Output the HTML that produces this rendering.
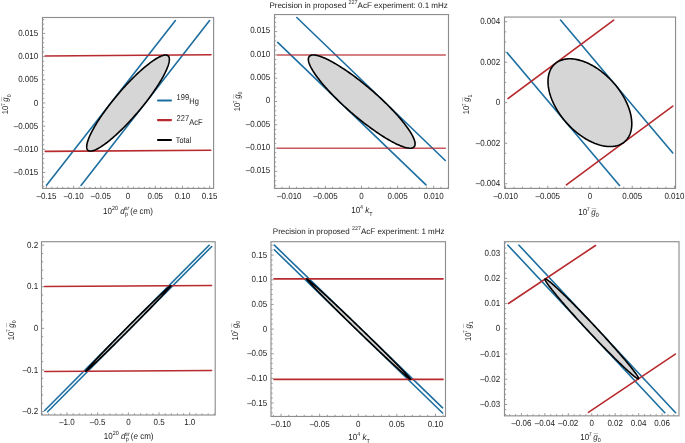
<!DOCTYPE html>
<html><head><meta charset="utf-8"><style>
html,body{margin:0;padding:0;background:#fff;}
svg{display:block;will-change:transform;}
text{font-family:"Liberation Sans", sans-serif;fill:#1a1a1a;text-rendering:geometricPrecision;}
</style></head><body>
<svg width="685" height="443" viewBox="0 0 685 443">
<rect width="685" height="443" fill="#fff"/>
<line x1="46.5" y1="185.2" x2="175.4" y2="20.6" stroke="#1d6fa1" stroke-width="1.6" stroke-linecap="round"/>
<line x1="81" y1="185.4" x2="209.6" y2="20.6" stroke="#1d6fa1" stroke-width="1.6" stroke-linecap="round"/>
<line x1="45.1" y1="55.95" x2="211" y2="54.7" stroke="#b72a2e" stroke-width="1.6" stroke-linecap="round" stroke-opacity="1"/>
<line x1="45.3" y1="151.4" x2="210.8" y2="150.2" stroke="#b72a2e" stroke-width="1.6" stroke-linecap="round" stroke-opacity="1"/>
<path d="M110.73,103.19 L111.72,101.93 L112.71,100.67 L113.72,99.42 L114.74,98.17 L115.77,96.92 L116.81,95.67 L117.86,94.43 L118.91,93.20 L119.97,91.97 L121.03,90.75 L122.10,89.54 L123.17,88.34 L124.25,87.15 L125.33,85.97 L126.41,84.80 L127.49,83.64 L128.57,82.50 L129.65,81.37 L130.73,80.26 L131.81,79.16 L132.89,78.08 L133.96,77.01 L135.03,75.97 L136.10,74.94 L137.15,73.93 L138.21,72.94 L139.25,71.97 L140.29,71.02 L141.32,70.10 L142.34,69.20 L143.35,68.32 L144.35,67.46 L145.34,66.63 L146.31,65.82 L147.28,65.04 L148.23,64.29 L149.17,63.56 L150.09,62.86 L151.00,62.18 L151.89,61.54 L152.77,60.92 L153.62,60.33 L154.47,59.77 L155.29,59.25 L156.09,58.75 L156.88,58.28 L157.64,57.84 L158.39,57.43 L159.11,57.06 L159.82,56.71 L160.50,56.40 L161.16,56.12 L161.79,55.87 L162.40,55.65 L162.99,55.47 L163.56,55.32 L164.10,55.20 L164.62,55.11 L165.11,55.06 L165.58,55.04 L166.02,55.06 L166.43,55.10 L166.82,55.18 L167.18,55.29 L167.51,55.44 L167.82,55.61 L168.10,55.82 L168.36,56.06 L168.58,56.34 L168.78,56.65 L168.95,56.98 L169.09,57.35 L169.20,57.75 L169.29,58.19 L169.34,58.65 L169.37,59.14 L169.37,59.66 L169.34,60.22 L169.29,60.80 L169.20,61.41 L169.09,62.05 L168.95,62.72 L168.78,63.41 L168.58,64.14 L168.36,64.89 L168.11,65.66 L167.83,66.46 L167.52,67.29 L167.19,68.14 L166.82,69.02 L166.44,69.91 L166.02,70.83 L165.58,71.78 L165.12,72.74 L164.63,73.73 L164.11,74.73 L163.57,75.76 L163.00,76.80 L162.42,77.86 L161.80,78.94 L161.17,80.03 L160.51,81.14 L159.83,82.27 L159.12,83.41 L158.40,84.56 L157.66,85.73 L156.89,86.91 L156.11,88.10 L155.30,89.30 L154.48,90.51 L153.64,91.72 L152.78,92.95 L151.91,94.18 L151.01,95.42 L150.11,96.66 L149.18,97.91 L148.25,99.16 L147.30,100.42 L146.33,101.67 L145.36,102.93 L144.37,104.19 L143.37,105.44 L142.36,106.70 L141.34,107.95 L140.31,109.20 L139.27,110.44 L138.23,111.68 L137.17,112.91 L136.11,114.14 L135.05,115.36 L133.98,116.57 L132.91,117.77 L131.83,118.96 L130.75,120.14 L129.67,121.31 L128.59,122.47 L127.51,123.61 L126.43,124.74 L125.35,125.86 L124.27,126.95 L123.19,128.04 L122.12,129.10 L121.05,130.15 L119.99,131.18 L118.93,132.19 L117.88,133.17 L116.83,134.14 L115.79,135.09 L114.76,136.02 L113.74,136.92 L112.73,137.80 L111.73,138.65 L110.74,139.48 L109.77,140.29 L108.80,141.07 L107.85,141.83 L106.91,142.56 L105.99,143.26 L105.08,143.93 L104.19,144.58 L103.32,145.19 L102.46,145.78 L101.62,146.34 L100.79,146.87 L99.99,147.37 L99.20,147.84 L98.44,148.28 L97.69,148.68 L96.97,149.06 L96.27,149.40 L95.59,149.72 L94.93,150.00 L94.29,150.24 L93.68,150.46 L93.09,150.64 L92.52,150.80 L91.98,150.91 L91.46,151.00 L90.97,151.05 L90.51,151.07 L90.07,151.06 L89.65,151.01 L89.26,150.93 L88.90,150.82 L88.57,150.68 L88.26,150.50 L87.98,150.29 L87.73,150.05 L87.50,149.78 L87.30,149.47 L87.13,149.13 L86.99,148.76 L86.88,148.36 L86.79,147.93 L86.74,147.47 L86.71,146.97 L86.71,146.45 L86.74,145.90 L86.79,145.31 L86.88,144.70 L86.99,144.06 L87.13,143.40 L87.30,142.70 L87.50,141.98 L87.72,141.23 L87.97,140.45 L88.25,139.65 L88.56,138.82 L88.90,137.97 L89.26,137.10 L89.64,136.20 L90.06,135.28 L90.50,134.34 L90.96,133.37 L91.46,132.39 L91.97,131.38 L92.51,130.36 L93.08,129.32 L93.67,128.25 L94.28,127.18 L94.91,126.08 L95.57,124.97 L96.25,123.84 L96.96,122.70 L97.68,121.55 L98.43,120.38 L99.19,119.21 L99.98,118.02 L100.78,116.82 L101.60,115.61 L102.44,114.39 L103.30,113.17 L104.18,111.93 L105.07,110.69 L105.98,109.45 L106.90,108.20 L107.84,106.95 L108.79,105.70 L109.75,104.44 Z" fill="#d6d6d6" stroke="#000" stroke-width="1.6" stroke-linejoin="round"/>
<rect x="42.5" y="17.5" width="171.10" height="170.92" fill="none" stroke="#8e8e8e" stroke-width="1.15"/>
<path d="M46.45,188.42v-2.7M51.89,188.42v-1.7M57.33,188.42v-1.7M62.77,188.42v-1.7M68.21,188.42v-1.7M73.65,188.42v-2.7M79.09,188.42v-1.7M84.53,188.42v-1.7M89.97,188.42v-1.7M95.41,188.42v-1.7M100.85,188.42v-2.7M106.29,188.42v-1.7M111.73,188.42v-1.7M117.17,188.42v-1.7M122.61,188.42v-1.7M128.05,188.42v-2.7M133.49,188.42v-1.7M138.93,188.42v-1.7M144.37,188.42v-1.7M149.81,188.42v-1.7M155.25,188.42v-2.7M160.69,188.42v-1.7M166.13,188.42v-1.7M171.57,188.42v-1.7M177.01,188.42v-1.7M182.45,188.42v-2.7M187.89,188.42v-1.7M193.33,188.42v-1.7M198.77,188.42v-1.7M204.21,188.42v-1.7M209.65,188.42v-2.7M42.50,186.39h1.7M42.50,181.75h1.7M42.50,177.12h1.7M42.50,172.48h2.7M42.50,167.85h1.7M42.50,163.22h1.7M42.50,158.58h1.7M42.50,153.94h1.7M42.50,149.31h2.7M42.50,144.68h1.7M42.50,140.04h1.7M42.50,135.41h1.7M42.50,130.77h1.7M42.50,126.13h2.7M42.50,121.50h1.7M42.50,116.86h1.7M42.50,112.23h1.7M42.50,107.59h1.7M42.50,102.96h2.7M42.50,98.32h1.7M42.50,93.69h1.7M42.50,89.05h1.7M42.50,84.42h1.7M42.50,79.78h2.7M42.50,75.15h1.7M42.50,70.51h1.7M42.50,65.88h1.7M42.50,61.24h1.7M42.50,56.61h2.7M42.50,51.97h1.7M42.50,47.34h1.7M42.50,42.70h1.7M42.50,38.07h1.7M42.50,33.44h2.7M42.50,28.80h1.7M42.50,24.16h1.7M42.50,19.53h1.7" stroke="#8e8e8e" stroke-width="0.9" fill="none"/>
<text transform="translate(46.45,198.82) scale(1,1.1)" font-size="8.0" text-anchor="middle" >–0.15</text>
<text transform="translate(73.65,198.82) scale(1,1.1)" font-size="8.0" text-anchor="middle" >–0.10</text>
<text transform="translate(100.85,198.82) scale(1,1.1)" font-size="8.0" text-anchor="middle" >–0.05</text>
<text transform="translate(128.05,198.82) scale(1,1.1)" font-size="8.0" text-anchor="middle" >0</text>
<text transform="translate(155.25,198.82) scale(1,1.1)" font-size="8.0" text-anchor="middle" >0.05</text>
<text transform="translate(182.45,198.82) scale(1,1.1)" font-size="8.0" text-anchor="middle" >0.10</text>
<text transform="translate(209.65,198.82) scale(1,1.1)" font-size="8.0" text-anchor="middle" >0.15</text>
<text transform="translate(38.20,175.18) scale(1,1.1)" font-size="8.0" text-anchor="end" >–0.015</text>
<text transform="translate(38.20,152.01) scale(1,1.1)" font-size="8.0" text-anchor="end" >–0.010</text>
<text transform="translate(38.20,128.83) scale(1,1.1)" font-size="8.0" text-anchor="end" >–0.005</text>
<text transform="translate(38.20,105.66) scale(1,1.1)" font-size="8.0" text-anchor="end" >0</text>
<text transform="translate(38.20,82.48) scale(1,1.1)" font-size="8.0" text-anchor="end" >0.005</text>
<text transform="translate(38.20,59.31) scale(1,1.1)" font-size="8.0" text-anchor="end" >0.010</text>
<text transform="translate(38.20,36.14) scale(1,1.1)" font-size="8.0" text-anchor="end" >0.015</text>
<line x1="296.8" y1="17.5" x2="445.3" y2="160.5" stroke="#1d6fa1" stroke-width="1.6" stroke-linecap="round"/>
<line x1="277.7" y1="42.4" x2="426" y2="184.9" stroke="#1d6fa1" stroke-width="1.6" stroke-linecap="round"/>
<line x1="277.3" y1="55.0" x2="445.3" y2="55.0" stroke="#b72a2e" stroke-width="1.6" stroke-linecap="round" stroke-opacity="0.78"/>
<line x1="277.3" y1="148.2" x2="445.3" y2="148.2" stroke="#b72a2e" stroke-width="1.6" stroke-linecap="round" stroke-opacity="0.78"/>
<path d="M384.13,101.60 L382.86,100.38 L381.57,99.16 L380.26,97.94 L378.95,96.73 L377.62,95.52 L376.28,94.31 L374.93,93.11 L373.57,91.91 L372.21,90.72 L370.83,89.54 L369.45,88.36 L368.07,87.20 L366.68,86.04 L365.29,84.90 L363.89,83.77 L362.49,82.65 L361.10,81.54 L359.70,80.44 L358.30,79.36 L356.91,78.30 L355.52,77.25 L354.13,76.22 L352.75,75.21 L351.38,74.21 L350.01,73.23 L348.65,72.27 L347.30,71.34 L345.96,70.42 L344.63,69.52 L343.31,68.65 L342.01,67.80 L340.72,66.97 L339.44,66.17 L338.18,65.38 L336.93,64.63 L335.70,63.90 L334.49,63.20 L333.30,62.52 L332.13,61.87 L330.97,61.24 L329.84,60.65 L328.73,60.08 L327.65,59.54 L326.58,59.03 L325.54,58.55 L324.53,58.10 L323.54,57.67 L322.57,57.28 L321.64,56.92 L320.73,56.59 L319.85,56.29 L319.00,56.02 L318.17,55.78 L317.38,55.57 L316.62,55.40 L315.89,55.26 L315.19,55.14 L314.52,55.06 L313.88,55.02 L313.28,55.00 L312.71,55.02 L312.17,55.06 L311.67,55.14 L311.20,55.26 L310.77,55.40 L310.37,55.57 L310.00,55.78 L309.68,56.02 L309.38,56.29 L309.13,56.59 L308.91,56.92 L308.72,57.28 L308.57,57.67 L308.46,58.10 L308.39,58.55 L308.35,59.03 L308.35,59.54 L308.38,60.08 L308.45,60.65 L308.56,61.24 L308.71,61.87 L308.89,62.52 L309.10,63.20 L309.36,63.90 L309.64,64.63 L309.97,65.38 L310.33,66.17 L310.72,66.97 L311.15,67.80 L311.62,68.65 L312.12,69.52 L312.65,70.42 L313.22,71.34 L313.82,72.27 L314.45,73.23 L315.11,74.21 L315.81,75.21 L316.54,76.22 L317.30,77.25 L318.09,78.30 L318.91,79.36 L319.76,80.44 L320.64,81.54 L321.54,82.65 L322.48,83.77 L323.44,84.90 L324.42,86.04 L325.44,87.20 L326.47,88.36 L327.53,89.54 L328.62,90.72 L329.73,91.91 L330.86,93.11 L332.01,94.31 L333.18,95.52 L334.37,96.73 L335.58,97.94 L336.80,99.16 L338.05,100.38 L339.31,101.60 L340.59,102.82 L341.88,104.04 L343.18,105.26 L344.50,106.47 L345.82,107.68 L347.16,108.89 L348.51,110.09 L349.87,111.29 L351.24,112.48 L352.61,113.66 L353.99,114.84 L355.38,116.00 L356.77,117.16 L358.16,118.30 L359.55,119.43 L360.95,120.55 L362.35,121.66 L363.75,122.76 L365.14,123.84 L366.53,124.90 L367.92,125.95 L369.31,126.98 L370.69,127.99 L372.06,128.99 L373.43,129.97 L374.79,130.93 L376.14,131.86 L377.48,132.78 L378.81,133.68 L380.13,134.55 L381.43,135.40 L382.73,136.23 L384.00,137.03 L385.27,137.82 L386.51,138.57 L387.74,139.30 L388.95,140.00 L390.14,140.68 L391.32,141.33 L392.47,141.96 L393.60,142.55 L394.71,143.12 L395.80,143.66 L396.86,144.17 L397.90,144.65 L398.92,145.10 L399.91,145.53 L400.87,145.92 L401.81,146.28 L402.72,146.61 L403.60,146.91 L404.45,147.18 L405.27,147.42 L406.06,147.63 L406.83,147.80 L407.56,147.94 L408.26,148.06 L408.93,148.14 L409.56,148.18 L410.17,148.20 L410.74,148.18 L411.27,148.14 L411.78,148.06 L412.24,147.94 L412.68,147.80 L413.08,147.63 L413.44,147.42 L413.77,147.18 L414.06,146.91 L414.32,146.61 L414.54,146.28 L414.72,145.92 L414.87,145.53 L414.98,145.10 L415.06,144.65 L415.09,144.17 L415.10,143.66 L415.06,143.12 L414.99,142.55 L414.88,141.96 L414.74,141.33 L414.56,140.68 L414.34,140.00 L414.09,139.30 L413.80,138.57 L413.48,137.82 L413.12,137.03 L412.72,136.23 L412.29,135.40 L411.83,134.55 L411.33,133.68 L410.79,132.78 L410.23,131.86 L409.63,130.93 L408.99,129.97 L408.33,128.99 L407.63,127.99 L406.90,126.98 L406.14,125.95 L405.35,124.90 L404.53,123.84 L403.69,122.76 L402.81,121.66 L401.90,120.55 L400.97,119.43 L400.01,118.30 L399.02,117.16 L398.01,116.00 L396.97,114.84 L395.91,113.66 L394.82,112.48 L393.72,111.29 L392.59,110.09 L391.44,108.89 L390.27,107.68 L389.08,106.47 L387.87,105.26 L386.64,104.04 L385.40,102.82 Z" fill="#d6d6d6" stroke="#000" stroke-width="1.6" stroke-linejoin="round"/>
<rect x="274.5" y="14.55" width="174.00" height="173.87" fill="none" stroke="#8e8e8e" stroke-width="1.15"/>
<path d="M274.86,188.42v-1.7M282.08,188.42v-1.7M289.30,188.42v-2.7M296.52,188.42v-1.7M303.74,188.42v-1.7M310.96,188.42v-1.7M318.18,188.42v-1.7M325.40,188.42v-2.7M332.62,188.42v-1.7M339.84,188.42v-1.7M347.06,188.42v-1.7M354.28,188.42v-1.7M361.50,188.42v-2.7M368.72,188.42v-1.7M375.94,188.42v-1.7M383.16,188.42v-1.7M390.38,188.42v-1.7M397.60,188.42v-2.7M404.82,188.42v-1.7M412.04,188.42v-1.7M419.26,188.42v-1.7M426.48,188.42v-1.7M433.70,188.42v-2.7M440.92,188.42v-1.7M448.14,188.42v-1.7M274.50,185.37h1.7M274.50,180.70h1.7M274.50,176.05h1.7M274.50,171.38h2.7M274.50,166.72h1.7M274.50,162.06h1.7M274.50,157.41h1.7M274.50,152.75h1.7M274.50,148.09h2.7M274.50,143.43h1.7M274.50,138.76h1.7M274.50,134.10h1.7M274.50,129.44h1.7M274.50,124.78h2.7M274.50,120.12h1.7M274.50,115.47h1.7M274.50,110.81h1.7M274.50,106.14h1.7M274.50,101.48h2.7M274.50,96.83h1.7M274.50,92.16h1.7M274.50,87.50h1.7M274.50,82.84h1.7M274.50,78.19h2.7M274.50,73.53h1.7M274.50,68.87h1.7M274.50,64.20h1.7M274.50,59.54h1.7M274.50,54.88h2.7M274.50,50.23h1.7M274.50,45.56h1.7M274.50,40.90h1.7M274.50,36.25h1.7M274.50,31.59h2.7M274.50,26.92h1.7M274.50,22.27h1.7M274.50,17.60h1.7" stroke="#8e8e8e" stroke-width="0.9" fill="none"/>
<text transform="translate(289.30,198.82) scale(1,1.1)" font-size="8.0" text-anchor="middle" >–0.010</text>
<text transform="translate(325.40,198.82) scale(1,1.1)" font-size="8.0" text-anchor="middle" >–0.005</text>
<text transform="translate(361.50,198.82) scale(1,1.1)" font-size="8.0" text-anchor="middle" >0</text>
<text transform="translate(397.60,198.82) scale(1,1.1)" font-size="8.0" text-anchor="middle" >0.005</text>
<text transform="translate(433.70,198.82) scale(1,1.1)" font-size="8.0" text-anchor="middle" >0.010</text>
<text transform="translate(270.20,173.28) scale(1,1.1)" font-size="8.0" text-anchor="end" >–0.015</text>
<text transform="translate(270.20,149.98) scale(1,1.1)" font-size="8.0" text-anchor="end" >–0.010</text>
<text transform="translate(270.20,126.69) scale(1,1.1)" font-size="8.0" text-anchor="end" >–0.005</text>
<text transform="translate(270.20,103.39) scale(1,1.1)" font-size="8.0" text-anchor="end" >0</text>
<text transform="translate(270.20,80.09) scale(1,1.1)" font-size="8.0" text-anchor="end" >0.005</text>
<text transform="translate(270.20,56.78) scale(1,1.1)" font-size="8.0" text-anchor="end" >0.010</text>
<text transform="translate(270.20,33.49) scale(1,1.1)" font-size="8.0" text-anchor="end" >0.015</text>
<line x1="560.5" y1="20.05" x2="672.8" y2="152.9" stroke="#1d6fa1" stroke-width="1.6" stroke-linecap="round"/>
<line x1="507" y1="52.6" x2="619.5" y2="185.4" stroke="#1d6fa1" stroke-width="1.6" stroke-linecap="round"/>
<line x1="508.0" y1="98.56" x2="613.7" y2="20.2" stroke="#b72a2e" stroke-width="1.6" stroke-linecap="round" stroke-opacity="1"/>
<line x1="566.4" y1="184.85" x2="672.8" y2="106.1" stroke="#b72a2e" stroke-width="1.6" stroke-linecap="round" stroke-opacity="1"/>
<path d="M614.77,84.25 L613.88,83.21 L612.97,82.19 L612.05,81.18 L611.11,80.19 L610.16,79.21 L609.19,78.24 L608.21,77.30 L607.22,76.37 L606.21,75.46 L605.20,74.57 L604.17,73.69 L603.13,72.84 L602.09,72.01 L601.04,71.20 L599.98,70.41 L598.91,69.64 L597.83,68.89 L596.75,68.17 L595.67,67.47 L594.58,66.80 L593.49,66.15 L592.40,65.53 L591.30,64.93 L590.20,64.35 L589.11,63.81 L588.01,63.29 L586.92,62.79 L585.82,62.33 L584.73,61.89 L583.65,61.48 L582.57,61.10 L581.49,60.74 L580.42,60.42 L579.35,60.12 L578.29,59.85 L577.24,59.62 L576.20,59.41 L575.17,59.23 L574.15,59.08 L573.14,58.96 L572.14,58.87 L571.15,58.81 L570.18,58.79 L569.22,58.79 L568.27,58.82 L567.34,58.88 L566.42,58.97 L565.52,59.09 L564.64,59.24 L563.77,59.43 L562.92,59.64 L562.09,59.88 L561.28,60.15 L560.49,60.45 L559.72,60.77 L558.97,61.13 L558.24,61.51 L557.53,61.93 L556.85,62.37 L556.19,62.84 L555.55,63.33 L554.93,63.86 L554.34,64.41 L553.77,64.98 L553.23,65.58 L552.71,66.21 L552.22,66.86 L551.75,67.54 L551.31,68.24 L550.90,68.96 L550.51,69.71 L550.15,70.48 L549.82,71.27 L549.51,72.09 L549.24,72.92 L548.99,73.77 L548.76,74.65 L548.57,75.54 L548.40,76.46 L548.27,77.39 L548.16,78.33 L548.08,79.30 L548.03,80.28 L548.01,81.27 L548.01,82.28 L548.05,83.31 L548.11,84.35 L548.20,85.40 L548.32,86.46 L548.47,87.53 L548.65,88.62 L548.86,89.71 L549.09,90.81 L549.35,91.92 L549.64,93.04 L549.96,94.16 L550.31,95.29 L550.68,96.43 L551.08,97.57 L551.50,98.71 L551.95,99.86 L552.43,101.00 L552.94,102.15 L553.46,103.30 L554.02,104.45 L554.60,105.60 L555.20,106.74 L555.83,107.88 L556.48,109.02 L557.15,110.16 L557.84,111.29 L558.56,112.41 L559.30,113.53 L560.06,114.64 L560.84,115.74 L561.64,116.83 L562.46,117.91 L563.30,118.99 L564.15,120.05 L565.03,121.10 L565.92,122.13 L566.82,123.16 L567.75,124.16 L568.69,125.16 L569.64,126.14 L570.61,127.10 L571.59,128.05 L572.58,128.98 L573.58,129.89 L574.60,130.78 L575.62,131.65 L576.66,132.50 L577.71,133.34 L578.76,134.15 L579.82,134.94 L580.89,135.71 L581.96,136.45 L583.04,137.17 L584.12,137.87 L585.21,138.55 L586.30,139.20 L587.40,139.82 L588.49,140.42 L589.59,140.99 L590.69,141.54 L591.78,142.06 L592.88,142.55 L593.97,143.02 L595.06,143.46 L596.15,143.87 L597.23,144.25 L598.31,144.60 L599.38,144.93 L600.44,145.23 L601.50,145.49 L602.55,145.73 L603.59,145.94 L604.62,146.12 L605.64,146.26 L606.66,146.38 L607.65,146.47 L608.64,146.53 L609.62,146.56 L610.58,146.56 L611.52,146.53 L612.46,146.47 L613.37,146.37 L614.27,146.25 L615.16,146.10 L616.02,145.92 L616.87,145.71 L617.70,145.47 L618.51,145.20 L619.30,144.90 L620.07,144.57 L620.82,144.22 L621.55,143.83 L622.26,143.42 L622.94,142.98 L623.61,142.51 L624.25,142.01 L624.86,141.49 L625.46,140.94 L626.02,140.36 L626.57,139.76 L627.08,139.14 L627.58,138.48 L628.04,137.81 L628.48,137.11 L628.90,136.38 L629.28,135.64 L629.64,134.87 L629.98,134.07 L630.28,133.26 L630.56,132.43 L630.81,131.57 L631.03,130.70 L631.22,129.80 L631.39,128.89 L631.53,127.96 L631.64,127.01 L631.72,126.05 L631.77,125.07 L631.79,124.07 L631.78,123.06 L631.75,122.04 L631.68,121.00 L631.59,119.95 L631.47,118.89 L631.32,117.81 L631.14,116.73 L630.94,115.64 L630.70,114.54 L630.44,113.42 L630.15,112.31 L629.83,111.18 L629.49,110.05 L629.12,108.92 L628.72,107.78 L628.29,106.64 L627.84,105.49 L627.36,104.34 L626.86,103.19 L626.33,102.05 L625.78,100.90 L625.20,99.75 L624.59,98.60 L623.97,97.46 L623.32,96.32 L622.65,95.19 L621.95,94.06 L621.23,92.93 L620.50,91.82 L619.74,90.71 L618.96,89.61 L618.16,88.51 L617.34,87.43 L616.50,86.36 L615.64,85.30 Z" fill="#d6d6d6" stroke="#000" stroke-width="1.6" stroke-linejoin="round"/>
<rect x="504.5" y="17.06" width="171.05" height="171.36" fill="none" stroke="#8e8e8e" stroke-width="1.15"/>
<path d="M505.62,188.42v-2.7M514.06,188.42v-1.7M522.50,188.42v-1.7M530.94,188.42v-1.7M539.38,188.42v-1.7M547.82,188.42v-2.7M556.26,188.42v-1.7M564.70,188.42v-1.7M573.14,188.42v-1.7M581.58,188.42v-1.7M590.02,188.42v-2.7M598.47,188.42v-1.7M606.90,188.42v-1.7M615.35,188.42v-1.7M623.78,188.42v-1.7M632.23,188.42v-2.7M640.66,188.42v-1.7M649.11,188.42v-1.7M657.54,188.42v-1.7M665.99,188.42v-1.7M674.42,188.42v-2.7M504.50,183.74h2.7M504.50,173.62h1.7M504.50,163.49h1.7M504.50,153.37h1.7M504.50,143.24h2.7M504.50,133.12h1.7M504.50,122.99h1.7M504.50,112.86h1.7M504.50,102.74h2.7M504.50,92.61h1.7M504.50,82.49h1.7M504.50,72.36h1.7M504.50,62.24h2.7M504.50,52.11h1.7M504.50,41.99h1.7M504.50,31.86h1.7M504.50,21.74h2.7" stroke="#8e8e8e" stroke-width="0.9" fill="none"/>
<text transform="translate(505.62,198.82) scale(1,1.1)" font-size="8.0" text-anchor="middle" >–0.010</text>
<text transform="translate(547.82,198.82) scale(1,1.1)" font-size="8.0" text-anchor="middle" >–0.005</text>
<text transform="translate(590.02,198.82) scale(1,1.1)" font-size="8.0" text-anchor="middle" >0</text>
<text transform="translate(632.23,198.82) scale(1,1.1)" font-size="8.0" text-anchor="middle" >0.005</text>
<text transform="translate(674.42,198.82) scale(1,1.1)" font-size="8.0" text-anchor="middle" >0.010</text>
<text transform="translate(500.20,186.44) scale(1,1.1)" font-size="8.0" text-anchor="end" >–0.004</text>
<text transform="translate(500.20,145.94) scale(1,1.1)" font-size="8.0" text-anchor="end" >–0.002</text>
<text transform="translate(500.20,105.44) scale(1,1.1)" font-size="8.0" text-anchor="end" >0</text>
<text transform="translate(500.20,64.94) scale(1,1.1)" font-size="8.0" text-anchor="end" >0.002</text>
<text transform="translate(500.20,24.44) scale(1,1.1)" font-size="8.0" text-anchor="end" >0.004</text>
<line x1="44.7" y1="410.5" x2="209.1" y2="245.2" stroke="#1d6fa1" stroke-width="1.6" stroke-linecap="round"/>
<line x1="47.6" y1="411.8" x2="211.7" y2="246.5" stroke="#1d6fa1" stroke-width="1.6" stroke-linecap="round"/>
<line x1="44.6" y1="286.45" x2="211.6" y2="285.5" stroke="#b72a2e" stroke-width="1.6" stroke-linecap="round" stroke-opacity="1"/>
<line x1="44.8" y1="371.5" x2="211.6" y2="370.5" stroke="#b72a2e" stroke-width="1.6" stroke-linecap="round" stroke-opacity="1"/>
<path d="M126.25,328.51 L127.36,327.39 L128.47,326.27 L129.59,325.15 L130.70,324.04 L131.81,322.92 L132.92,321.82 L134.03,320.71 L135.13,319.61 L136.22,318.52 L137.31,317.44 L138.40,316.36 L139.48,315.29 L140.55,314.23 L141.61,313.18 L142.66,312.14 L143.71,311.11 L144.74,310.09 L145.76,309.09 L146.77,308.10 L147.77,307.12 L148.75,306.16 L149.72,305.21 L150.67,304.28 L151.61,303.37 L152.53,302.47 L153.44,301.59 L154.33,300.73 L155.20,299.89 L156.05,299.07 L156.89,298.27 L157.70,297.48 L158.50,296.72 L159.27,295.99 L160.02,295.27 L160.75,294.58 L161.46,293.91 L162.15,293.26 L162.81,292.64 L163.45,292.04 L164.06,291.47 L164.65,290.92 L165.22,290.40 L165.76,289.90 L166.27,289.43 L166.76,288.99 L167.22,288.58 L167.65,288.19 L168.06,287.83 L168.44,287.50 L168.80,287.19 L169.12,286.92 L169.42,286.67 L169.69,286.45 L169.93,286.26 L170.14,286.10 L170.33,285.97 L170.48,285.87 L170.61,285.79 L170.70,285.75 L170.77,285.73 L170.81,285.75 L170.82,285.79 L170.80,285.86 L170.75,285.97 L170.67,286.10 L170.57,286.26 L170.43,286.45 L170.26,286.66 L170.07,286.91 L169.85,287.19 L169.60,287.49 L169.32,287.82 L169.01,288.18 L168.68,288.57 L168.31,288.98 L167.92,289.42 L167.51,289.89 L167.06,290.39 L166.59,290.91 L166.09,291.46 L165.57,292.03 L165.02,292.62 L164.45,293.25 L163.85,293.89 L163.23,294.56 L162.58,295.25 L161.91,295.97 L161.22,296.71 L160.50,297.47 L159.76,298.25 L159.00,299.05 L158.22,299.87 L157.42,300.71 L156.60,301.57 L155.76,302.45 L154.90,303.35 L154.02,304.26 L153.13,305.19 L152.21,306.14 L151.29,307.10 L150.34,308.08 L149.38,309.07 L148.41,310.07 L147.42,311.09 L146.42,312.12 L145.41,313.16 L144.38,314.21 L143.34,315.27 L142.30,316.34 L141.24,317.41 L140.18,318.50 L139.10,319.59 L138.02,320.69 L136.94,321.79 L135.84,322.90 L134.74,324.01 L133.64,325.13 L132.53,326.24 L131.43,327.36 L130.31,328.48 L129.20,329.60 L128.09,330.72 L126.97,331.84 L125.86,332.95 L124.75,334.06 L123.64,335.17 L122.54,336.27 L121.44,337.37 L120.34,338.46 L119.25,339.55 L118.16,340.63 L117.08,341.70 L116.01,342.76 L114.95,343.81 L113.90,344.85 L112.86,345.87 L111.82,346.89 L110.80,347.90 L109.79,348.89 L108.80,349.86 L107.81,350.83 L106.84,351.77 L105.89,352.70 L104.95,353.62 L104.03,354.52 L103.12,355.39 L102.23,356.26 L101.36,357.10 L100.51,357.92 L99.67,358.72 L98.86,359.50 L98.07,360.26 L97.29,361.00 L96.54,361.72 L95.81,362.41 L95.10,363.08 L94.42,363.73 L93.75,364.35 L93.12,364.95 L92.50,365.52 L91.91,366.07 L91.35,366.59 L90.81,367.08 L90.29,367.55 L89.80,367.99 L89.34,368.41 L88.91,368.80 L88.50,369.16 L88.12,369.49 L87.77,369.79 L87.44,370.07 L87.14,370.32 L86.87,370.54 L86.63,370.73 L86.42,370.89 L86.24,371.02 L86.08,371.12 L85.96,371.20 L85.86,371.24 L85.79,371.25 L85.75,371.24 L85.74,371.20 L85.76,371.12 L85.81,371.02 L85.89,370.89 L86.00,370.73 L86.13,370.54 L86.30,370.32 L86.49,370.08 L86.71,369.80 L86.96,369.50 L87.24,369.17 L87.55,368.81 L87.89,368.42 L88.25,368.00 L88.64,367.56 L89.06,367.09 L89.50,366.60 L89.97,366.08 L90.47,365.53 L90.99,364.96 L91.54,364.36 L92.11,363.74 L92.71,363.09 L93.33,362.43 L93.98,361.73 L94.65,361.02 L95.35,360.28 L96.06,359.52 L96.80,358.74 L97.56,357.94 L98.34,357.11 L99.14,356.27 L99.96,355.41 L100.80,354.53 L101.66,353.64 L102.54,352.72 L103.43,351.79 L104.35,350.85 L105.28,349.88 L106.22,348.91 L107.18,347.92 L108.15,346.91 L109.14,345.90 L110.14,344.87 L111.16,343.83 L112.18,342.78 L113.22,341.72 L114.26,340.65 L115.32,339.57 L116.39,338.49 L117.46,337.40 L118.54,336.30 L119.63,335.19 L120.72,334.09 L121.82,332.97 L122.92,331.86 L124.03,330.74 L125.14,329.62 Z" fill="#d6d6d6" stroke="#000" stroke-width="1.6" stroke-linejoin="round"/>
<rect x="41.5" y="241.7" width="173.70" height="173.30" fill="none" stroke="#8e8e8e" stroke-width="1.15"/>
<path d="M42.39,415.00v-1.7M48.53,415.00v-1.7M54.67,415.00v-1.7M60.81,415.00v-1.7M66.95,415.00v-2.7M73.09,415.00v-1.7M79.23,415.00v-1.7M85.37,415.00v-1.7M91.51,415.00v-1.7M97.65,415.00v-2.7M103.79,415.00v-1.7M109.93,415.00v-1.7M116.07,415.00v-1.7M122.21,415.00v-1.7M128.35,415.00v-2.7M134.49,415.00v-1.7M140.63,415.00v-1.7M146.77,415.00v-1.7M152.91,415.00v-1.7M159.05,415.00v-2.7M165.19,415.00v-1.7M171.33,415.00v-1.7M177.47,415.00v-1.7M183.61,415.00v-1.7M189.75,415.00v-2.7M195.89,415.00v-1.7M202.03,415.00v-1.7M208.17,415.00v-1.7M214.31,415.00v-1.7M41.50,411.55h2.7M41.50,403.23h1.7M41.50,394.91h1.7M41.50,386.59h1.7M41.50,378.27h1.7M41.50,369.95h2.7M41.50,361.63h1.7M41.50,353.31h1.7M41.50,344.99h1.7M41.50,336.67h1.7M41.50,328.35h2.7M41.50,320.03h1.7M41.50,311.71h1.7M41.50,303.39h1.7M41.50,295.07h1.7M41.50,286.75h2.7M41.50,278.43h1.7M41.50,270.11h1.7M41.50,261.79h1.7M41.50,253.47h1.7M41.50,245.15h2.7" stroke="#8e8e8e" stroke-width="0.9" fill="none"/>
<text transform="translate(66.95,425.40) scale(1,1.1)" font-size="8.0" text-anchor="middle" >–1.0</text>
<text transform="translate(97.65,425.40) scale(1,1.1)" font-size="8.0" text-anchor="middle" >–0.5</text>
<text transform="translate(128.35,425.40) scale(1,1.1)" font-size="8.0" text-anchor="middle" >0</text>
<text transform="translate(159.05,425.40) scale(1,1.1)" font-size="8.0" text-anchor="middle" >0.5</text>
<text transform="translate(189.75,425.40) scale(1,1.1)" font-size="8.0" text-anchor="middle" >1.0</text>
<text transform="translate(38.10,414.25) scale(1,1.1)" font-size="8.0" text-anchor="end" >–0.2</text>
<text transform="translate(38.10,372.65) scale(1,1.1)" font-size="8.0" text-anchor="end" >–0.1</text>
<text transform="translate(38.10,331.05) scale(1,1.1)" font-size="8.0" text-anchor="end" >0</text>
<text transform="translate(38.10,289.45) scale(1,1.1)" font-size="8.0" text-anchor="end" >0.1</text>
<text transform="translate(38.10,247.85) scale(1,1.1)" font-size="8.0" text-anchor="end" >0.2</text>
<line x1="274.3" y1="245.15" x2="442.6" y2="407.8" stroke="#1d6fa1" stroke-width="1.6" stroke-linecap="round"/>
<line x1="274.3" y1="249.75" x2="442.6" y2="413.0" stroke="#1d6fa1" stroke-width="1.6" stroke-linecap="round"/>
<line x1="274" y1="278.9" x2="443" y2="278.9" stroke="#b72a2e" stroke-width="1.6" stroke-linecap="round" stroke-opacity="1"/>
<line x1="274" y1="379.4" x2="443" y2="379.4" stroke="#b72a2e" stroke-width="1.6" stroke-linecap="round" stroke-opacity="1"/>
<path d="M361.22,329.15 L359.86,327.83 L358.50,326.52 L357.14,325.21 L355.78,323.90 L354.42,322.59 L353.07,321.29 L351.72,319.99 L350.37,318.70 L349.03,317.42 L347.70,316.14 L346.37,314.88 L345.06,313.62 L343.75,312.38 L342.45,311.14 L341.16,309.92 L339.89,308.71 L338.63,307.52 L337.38,306.34 L336.15,305.17 L334.93,304.03 L333.73,302.89 L332.54,301.78 L331.38,300.69 L330.23,299.61 L329.10,298.56 L327.99,297.53 L326.91,296.52 L325.84,295.53 L324.80,294.56 L323.78,293.62 L322.78,292.70 L321.81,291.81 L320.87,290.94 L319.95,290.10 L319.05,289.28 L318.19,288.50 L317.35,287.74 L316.54,287.01 L315.76,286.30 L315.01,285.63 L314.28,284.99 L313.59,284.38 L312.93,283.80 L312.30,283.24 L311.71,282.73 L311.14,282.24 L310.61,281.78 L310.11,281.36 L309.64,280.97 L309.21,280.61 L308.81,280.29 L308.45,280.00 L308.12,279.74 L307.82,279.52 L307.56,279.33 L307.34,279.18 L307.15,279.05 L306.99,278.97 L306.87,278.92 L306.79,278.90 L306.74,278.92 L306.73,278.97 L306.75,279.05 L306.81,279.18 L306.90,279.33 L307.03,279.52 L307.19,279.74 L307.39,280.00 L307.63,280.29 L307.90,280.61 L308.21,280.97 L308.55,281.36 L308.92,281.78 L309.33,282.24 L309.77,282.73 L310.24,283.24 L310.75,283.80 L311.29,284.38 L311.87,284.99 L312.47,285.63 L313.11,286.30 L313.78,287.01 L314.48,287.74 L315.21,288.50 L315.97,289.28 L316.76,290.10 L317.58,290.94 L318.42,291.81 L319.30,292.70 L320.20,293.62 L321.13,294.56 L322.08,295.53 L323.06,296.52 L324.06,297.53 L325.08,298.56 L326.13,299.61 L327.20,300.69 L328.30,301.78 L329.41,302.89 L330.55,304.03 L331.70,305.17 L332.87,306.34 L334.06,307.52 L335.27,308.71 L336.49,309.92 L337.72,311.14 L338.98,312.38 L340.24,313.62 L341.52,314.88 L342.81,316.14 L344.11,317.42 L345.42,318.70 L346.74,319.99 L348.07,321.29 L349.40,322.59 L350.75,323.90 L352.09,325.21 L353.44,326.52 L354.80,327.83 L356.16,329.15 L357.52,330.47 L358.88,331.78 L360.24,333.09 L361.60,334.40 L362.95,335.71 L364.31,337.01 L365.66,338.31 L367.00,339.60 L368.34,340.88 L369.68,342.16 L371.00,343.42 L372.32,344.68 L373.63,345.92 L374.92,347.16 L376.21,348.38 L377.48,349.59 L378.75,350.78 L379.99,351.96 L381.23,353.13 L382.45,354.27 L383.65,355.41 L384.83,356.52 L386.00,357.61 L387.15,358.69 L388.27,359.74 L389.38,360.77 L390.47,361.78 L391.53,362.77 L392.58,363.74 L393.60,364.68 L394.59,365.60 L395.56,366.49 L396.51,367.36 L397.43,368.20 L398.32,369.02 L399.19,369.80 L400.03,370.56 L400.84,371.29 L401.62,372.00 L402.37,372.67 L403.09,373.31 L403.78,373.92 L404.44,374.50 L405.07,375.06 L405.67,375.57 L406.23,376.06 L406.77,376.52 L407.26,376.94 L407.73,377.33 L408.16,377.69 L408.56,378.01 L408.93,378.30 L409.26,378.56 L409.55,378.78 L409.81,378.97 L410.04,379.12 L410.23,379.25 L410.38,379.33 L410.50,379.38 L410.59,379.40 L410.64,379.38 L410.65,379.33 L410.63,379.25 L410.57,379.12 L410.47,378.97 L410.34,378.78 L410.18,378.56 L409.98,378.30 L409.74,378.01 L409.47,377.69 L409.17,377.33 L408.83,376.94 L408.45,376.52 L408.05,376.06 L407.60,375.57 L407.13,375.06 L406.62,374.50 L406.08,373.92 L405.51,373.31 L404.90,372.67 L404.26,372.00 L403.59,371.29 L402.89,370.56 L402.16,369.80 L401.40,369.02 L400.61,368.20 L399.80,367.36 L398.95,366.49 L398.08,365.60 L397.18,364.68 L396.25,363.74 L395.30,362.77 L394.32,361.78 L393.32,360.77 L392.29,359.74 L391.24,358.69 L390.17,357.61 L389.08,356.52 L387.96,355.41 L386.83,354.27 L385.68,353.13 L384.50,351.96 L383.31,350.78 L382.11,349.59 L380.89,348.38 L379.65,347.16 L378.40,345.92 L377.13,344.68 L375.85,343.42 L374.56,342.16 L373.26,340.88 L371.95,339.60 L370.63,338.31 L369.31,337.01 L367.97,335.71 L366.63,334.40 L365.28,333.09 L363.93,331.78 L362.58,330.47 Z" fill="#d6d6d6" stroke="#000" stroke-width="1.6" stroke-linejoin="round"/>
<rect x="271.0" y="241.7" width="174.50" height="174.75" fill="none" stroke="#8e8e8e" stroke-width="1.15"/>
<path d="M273.33,416.45v-1.7M281.05,416.45v-2.7M288.77,416.45v-1.7M296.49,416.45v-1.7M304.21,416.45v-1.7M311.93,416.45v-1.7M319.65,416.45v-2.7M327.37,416.45v-1.7M335.09,416.45v-1.7M342.81,416.45v-1.7M350.53,416.45v-1.7M358.25,416.45v-2.7M365.97,416.45v-1.7M373.69,416.45v-1.7M381.41,416.45v-1.7M389.13,416.45v-1.7M396.85,416.45v-2.7M404.57,416.45v-1.7M412.29,416.45v-1.7M420.01,416.45v-1.7M427.73,416.45v-1.7M435.45,416.45v-2.7M443.17,416.45v-1.7M271.00,412.88h1.7M271.00,407.95h1.7M271.00,403.02h2.7M271.00,398.10h1.7M271.00,393.16h1.7M271.00,388.24h1.7M271.00,383.31h1.7M271.00,378.38h2.7M271.00,373.44h1.7M271.00,368.51h1.7M271.00,363.58h1.7M271.00,358.65h1.7M271.00,353.72h2.7M271.00,348.79h1.7M271.00,343.87h1.7M271.00,338.94h1.7M271.00,334.00h1.7M271.00,329.07h2.7M271.00,324.14h1.7M271.00,319.21h1.7M271.00,314.28h1.7M271.00,309.36h1.7M271.00,304.43h2.7M271.00,299.50h1.7M271.00,294.56h1.7M271.00,289.63h1.7M271.00,284.70h1.7M271.00,279.77h2.7M271.00,274.84h1.7M271.00,269.91h1.7M271.00,264.99h1.7M271.00,260.05h1.7M271.00,255.12h2.7M271.00,250.19h1.7M271.00,245.26h1.7" stroke="#8e8e8e" stroke-width="0.9" fill="none"/>
<text transform="translate(281.05,426.85) scale(1,1.1)" font-size="8.0" text-anchor="middle" >–0.10</text>
<text transform="translate(319.65,426.85) scale(1,1.1)" font-size="8.0" text-anchor="middle" >–0.05</text>
<text transform="translate(358.25,426.85) scale(1,1.1)" font-size="8.0" text-anchor="middle" >0</text>
<text transform="translate(396.85,426.85) scale(1,1.1)" font-size="8.0" text-anchor="middle" >0.05</text>
<text transform="translate(435.45,426.85) scale(1,1.1)" font-size="8.0" text-anchor="middle" >0.10</text>
<text transform="translate(267.20,405.72) scale(1,1.1)" font-size="8.0" text-anchor="end" >–0.15</text>
<text transform="translate(267.20,381.07) scale(1,1.1)" font-size="8.0" text-anchor="end" >–0.10</text>
<text transform="translate(267.20,356.42) scale(1,1.1)" font-size="8.0" text-anchor="end" >–0.05</text>
<text transform="translate(267.20,331.77) scale(1,1.1)" font-size="8.0" text-anchor="end" >0</text>
<text transform="translate(267.20,307.12) scale(1,1.1)" font-size="8.0" text-anchor="end" >0.05</text>
<text transform="translate(267.20,282.47) scale(1,1.1)" font-size="8.0" text-anchor="end" >0.10</text>
<text transform="translate(267.20,257.82) scale(1,1.1)" font-size="8.0" text-anchor="end" >0.15</text>
<line x1="507.9" y1="245.2" x2="664.8" y2="412.7" stroke="#1d6fa1" stroke-width="1.6" stroke-linecap="round"/>
<line x1="519" y1="245.2" x2="675.6" y2="412.7" stroke="#1d6fa1" stroke-width="1.6" stroke-linecap="round"/>
<line x1="508.5" y1="303.47" x2="595.5" y2="245.47" stroke="#b72a2e" stroke-width="1.6" stroke-linecap="round" stroke-opacity="1"/>
<line x1="588.4" y1="412.3" x2="675.3" y2="354.07" stroke="#b72a2e" stroke-width="1.6" stroke-linecap="round" stroke-opacity="1"/>
<path d="M588.42,331.16 L587.20,329.85 L585.98,328.55 L584.77,327.24 L583.56,325.94 L582.36,324.63 L581.16,323.33 L579.97,322.04 L578.79,320.74 L577.62,319.46 L576.46,318.18 L575.31,316.91 L574.17,315.64 L573.04,314.39 L571.92,313.14 L570.82,311.91 L569.73,310.69 L568.66,309.48 L567.60,308.28 L566.56,307.10 L565.54,305.93 L564.54,304.78 L563.55,303.64 L562.58,302.52 L561.64,301.42 L560.71,300.34 L559.81,299.28 L558.92,298.24 L558.06,297.22 L557.23,296.22 L556.41,295.25 L555.62,294.29 L554.86,293.36 L554.12,292.46 L553.41,291.58 L552.72,290.72 L552.06,289.90 L551.43,289.09 L550.82,288.32 L550.25,287.57 L549.70,286.86 L549.18,286.17 L548.69,285.51 L548.22,284.88 L547.79,284.28 L547.39,283.71 L547.02,283.17 L546.68,282.66 L546.37,282.19 L546.09,281.74 L545.85,281.33 L545.63,280.95 L545.45,280.61 L545.30,280.30 L545.18,280.02 L545.09,279.77 L545.03,279.56 L545.01,279.38 L545.02,279.24 L545.06,279.13 L545.13,279.05 L545.23,279.01 L545.37,279.00 L545.54,279.03 L545.74,279.09 L545.97,279.18 L546.23,279.31 L546.52,279.47 L546.85,279.67 L547.21,279.90 L547.59,280.17 L548.01,280.46 L548.45,280.79 L548.93,281.16 L549.44,281.55 L549.97,281.98 L550.53,282.44 L551.12,282.94 L551.74,283.46 L552.39,284.02 L553.06,284.60 L553.77,285.22 L554.49,285.87 L555.24,286.54 L556.02,287.25 L556.82,287.98 L557.65,288.74 L558.50,289.53 L559.37,290.35 L560.26,291.19 L561.18,292.06 L562.11,292.96 L563.07,293.87 L564.05,294.82 L565.04,295.78 L566.06,296.77 L567.09,297.78 L568.14,298.81 L569.20,299.87 L570.28,300.94 L571.38,302.03 L572.48,303.14 L573.61,304.27 L574.74,305.41 L575.89,306.57 L577.04,307.75 L578.21,308.94 L579.39,310.14 L580.57,311.36 L581.77,312.59 L582.97,313.83 L584.17,315.08 L585.38,316.34 L586.60,317.61 L587.82,318.88 L589.04,320.17 L590.26,321.46 L591.48,322.75 L592.71,324.05 L593.93,325.35 L595.16,326.66 L596.38,327.96 L597.59,329.27 L598.81,330.58 L600.01,331.88 L601.22,333.18 L602.41,334.48 L603.60,335.78 L604.78,337.07 L605.95,338.36 L607.12,339.64 L608.27,340.91 L609.41,342.17 L610.54,343.43 L611.65,344.67 L612.75,345.91 L613.84,347.13 L614.91,348.34 L615.97,349.54 L617.01,350.72 L618.03,351.89 L619.04,353.04 L620.02,354.17 L620.99,355.29 L621.94,356.39 L622.86,357.47 L623.77,358.53 L624.65,359.58 L625.51,360.60 L626.35,361.59 L627.16,362.57 L627.95,363.52 L628.71,364.45 L629.45,365.36 L630.17,366.24 L630.85,367.09 L631.51,367.92 L632.15,368.72 L632.75,369.50 L633.33,370.24 L633.88,370.96 L634.40,371.65 L634.89,372.31 L635.35,372.94 L635.78,373.54 L636.18,374.11 L636.55,374.65 L636.89,375.15 L637.20,375.63 L637.48,376.07 L637.73,376.48 L637.94,376.86 L638.13,377.21 L638.28,377.52 L638.40,377.80 L638.49,378.05 L638.54,378.26 L638.57,378.44 L638.56,378.58 L638.52,378.69 L638.45,378.77 L638.34,378.81 L638.21,378.82 L638.04,378.79 L637.84,378.73 L637.61,378.63 L637.34,378.50 L637.05,378.34 L636.73,378.14 L636.37,377.91 L635.98,377.65 L635.57,377.35 L635.12,377.02 L634.64,376.66 L634.14,376.26 L633.60,375.83 L633.04,375.37 L632.45,374.88 L631.83,374.35 L631.18,373.80 L630.51,373.21 L629.81,372.59 L629.08,371.95 L628.33,371.27 L627.55,370.57 L626.75,369.83 L625.93,369.07 L625.08,368.28 L624.21,367.47 L623.31,366.62 L622.40,365.75 L621.46,364.86 L620.50,363.94 L619.53,363.00 L618.53,362.03 L617.52,361.05 L616.49,360.03 L615.44,359.00 L614.37,357.95 L613.29,356.88 L612.20,355.79 L611.09,354.68 L609.97,353.55 L608.83,352.40 L607.69,351.24 L606.53,350.07 L605.36,348.88 L604.19,347.67 L603.00,346.46 L601.81,345.23 L600.61,343.99 L599.40,342.74 L598.19,341.48 L596.98,340.21 L595.76,338.93 L594.54,337.65 L593.31,336.36 L592.09,335.06 L590.87,333.77 L589.64,332.46 Z" fill="#d6d6d6" stroke="#000" stroke-width="1.6" stroke-linejoin="round"/>
<rect x="504.5" y="241.7" width="174.50" height="174.15" fill="none" stroke="#8e8e8e" stroke-width="1.15"/>
<path d="M509.71,415.85v-1.7M515.57,415.85v-1.7M521.43,415.85v-2.7M527.29,415.85v-1.7M533.15,415.85v-1.7M539.01,415.85v-1.7M544.87,415.85v-2.7M550.73,415.85v-1.7M556.59,415.85v-1.7M562.45,415.85v-1.7M568.31,415.85v-2.7M574.17,415.85v-1.7M580.03,415.85v-1.7M585.89,415.85v-1.7M591.75,415.85v-2.7M597.61,415.85v-1.7M603.47,415.85v-1.7M609.33,415.85v-1.7M615.19,415.85v-2.7M621.05,415.85v-1.7M626.91,415.85v-1.7M632.77,415.85v-1.7M638.63,415.85v-2.7M644.49,415.85v-1.7M650.35,415.85v-1.7M656.21,415.85v-1.7M662.07,415.85v-2.7M667.93,415.85v-1.7M673.79,415.85v-1.7M504.50,414.56h1.7M504.50,409.51h1.7M504.50,404.46h2.7M504.50,399.42h1.7M504.50,394.37h1.7M504.50,389.33h1.7M504.50,384.28h1.7M504.50,379.23h2.7M504.50,374.19h1.7M504.50,369.14h1.7M504.50,364.10h1.7M504.50,359.05h1.7M504.50,354.00h2.7M504.50,348.96h1.7M504.50,343.91h1.7M504.50,338.87h1.7M504.50,333.82h1.7M504.50,328.77h2.7M504.50,323.73h1.7M504.50,318.68h1.7M504.50,313.64h1.7M504.50,308.59h1.7M504.50,303.54h2.7M504.50,298.50h1.7M504.50,293.45h1.7M504.50,288.41h1.7M504.50,283.36h1.7M504.50,278.31h2.7M504.50,273.27h1.7M504.50,268.22h1.7M504.50,263.18h1.7M504.50,258.13h1.7M504.50,253.08h2.7M504.50,248.04h1.7M504.50,242.99h1.7" stroke="#8e8e8e" stroke-width="0.9" fill="none"/>
<text transform="translate(521.43,426.25) scale(1,1.1)" font-size="8.0" text-anchor="middle" >–0.06</text>
<text transform="translate(544.87,426.25) scale(1,1.1)" font-size="8.0" text-anchor="middle" >–0.04</text>
<text transform="translate(568.31,426.25) scale(1,1.1)" font-size="8.0" text-anchor="middle" >–0.02</text>
<text transform="translate(591.75,426.25) scale(1,1.1)" font-size="8.0" text-anchor="middle" >0</text>
<text transform="translate(615.19,426.25) scale(1,1.1)" font-size="8.0" text-anchor="middle" >0.02</text>
<text transform="translate(638.63,426.25) scale(1,1.1)" font-size="8.0" text-anchor="middle" >0.04</text>
<text transform="translate(662.07,426.25) scale(1,1.1)" font-size="8.0" text-anchor="middle" >0.06</text>
<text transform="translate(500.20,407.16) scale(1,1.1)" font-size="8.0" text-anchor="end" >–0.03</text>
<text transform="translate(500.20,381.93) scale(1,1.1)" font-size="8.0" text-anchor="end" >–0.02</text>
<text transform="translate(500.20,356.70) scale(1,1.1)" font-size="8.0" text-anchor="end" >–0.01</text>
<text transform="translate(500.20,331.47) scale(1,1.1)" font-size="8.0" text-anchor="end" >0</text>
<text transform="translate(500.20,306.24) scale(1,1.1)" font-size="8.0" text-anchor="end" >0.01</text>
<text transform="translate(500.20,281.01) scale(1,1.1)" font-size="8.0" text-anchor="end" >0.02</text>
<text transform="translate(500.20,255.78) scale(1,1.1)" font-size="8.0" text-anchor="end" >0.03</text>
<text transform="translate(128.00,213.70) scale(1,1.1)" font-size="8.0" text-anchor="middle" >10<tspan font-size="5.4" dy="-3.2">20</tspan><tspan dy="3.2"> </tspan><tspan font-style="italic">d</tspan><tspan font-size="5.4" dy="-3.0" font-style="italic">sr</tspan><tspan font-size="5.4" dx="-4.2" dy="5.0">p</tspan><tspan dy="-2.0"> (</tspan><tspan font-style="italic">e</tspan> cm)</text>
<text transform="translate(361.90,212.85) scale(1,1.1)" font-size="8.0" text-anchor="middle" >10<tspan font-size="5.4" dy="-3.2">4</tspan><tspan dy="3.2"> </tspan><tspan font-style="italic">k</tspan><tspan font-size="5.4" dy="2.5">T</tspan></text>
<text transform="translate(588.60,214.90) scale(1,1.1)" font-size="8.0" text-anchor="middle" >10<tspan font-size="5.40" dx="-0.50" dy="-3.20">7</tspan><tspan font-style="italic" dy="3.20" dx="1.60">g</tspan><tspan dx="-4.00" dy="-0.20" fill="#707070">¯</tspan><tspan font-size="5.40" dx="-0.40" dy="2.50">0</tspan></text>
<text transform="translate(128.65,439.00) scale(1,1.1)" font-size="8.0" text-anchor="middle" >10<tspan font-size="5.4" dy="-3.2">20</tspan><tspan dy="3.2"> </tspan><tspan font-style="italic">d</tspan><tspan font-size="5.4" dy="-3.0" font-style="italic">sr</tspan><tspan font-size="5.4" dx="-4.2" dy="5.0">p</tspan><tspan dy="-2.0"> (</tspan><tspan font-style="italic">e</tspan> cm)</text>
<text transform="translate(359.00,439.90) scale(1,1.1)" font-size="8.0" text-anchor="middle" >10<tspan font-size="5.4" dy="-3.2">4</tspan><tspan dy="3.2"> </tspan><tspan font-style="italic">k</tspan><tspan font-size="5.4" dy="2.5">T</tspan></text>
<text transform="translate(590.50,439.90) scale(1,1.1)" font-size="8.0" text-anchor="middle" >10<tspan font-size="5.40" dx="-0.50" dy="-3.20">7</tspan><tspan font-style="italic" dy="3.20" dx="1.60">g</tspan><tspan dx="-4.00" dy="-0.20" fill="#707070">¯</tspan><tspan font-size="5.40" dx="-0.40" dy="2.50">0</tspan></text>
<text transform="translate(8.10,104.30) rotate(-90) scale(1,1.1)" font-size="7.68" text-anchor="middle" >10<tspan font-size="5.18" dx="-0.48" dy="-3.07">7</tspan><tspan font-style="italic" dy="3.07" dx="1.54">g</tspan><tspan dx="-3.84" dy="-0.19" fill="#707070">¯</tspan><tspan font-size="5.18" dx="-0.38" dy="2.40">0</tspan></text>
<text transform="translate(239.90,101.50) rotate(-90) scale(1,1.1)" font-size="7.68" text-anchor="middle" >10<tspan font-size="5.18" dx="-0.48" dy="-3.07">7</tspan><tspan font-style="italic" dy="3.07" dx="1.54">g</tspan><tspan dx="-3.84" dy="-0.19" fill="#707070">¯</tspan><tspan font-size="5.18" dx="-0.38" dy="2.40">0</tspan></text>
<text transform="translate(469.10,104.50) rotate(-90) scale(1,1.1)" font-size="7.68" text-anchor="middle" >10<tspan font-size="5.18" dx="-0.48" dy="-3.07">7</tspan><tspan font-style="italic" dy="3.07" dx="1.54">g</tspan><tspan dx="-3.84" dy="-0.19" fill="#707070">¯</tspan><tspan font-size="5.18" dx="-0.38" dy="2.40">1</tspan></text>
<text transform="translate(13.70,330.30) rotate(-90) scale(1,1.1)" font-size="7.68" text-anchor="middle" >10<tspan font-size="5.18" dx="-0.48" dy="-3.07">7</tspan><tspan font-style="italic" dy="3.07" dx="1.54">g</tspan><tspan dx="-3.84" dy="-0.19" fill="#707070">¯</tspan><tspan font-size="5.18" dx="-0.38" dy="2.40">0</tspan></text>
<text transform="translate(237.90,330.70) rotate(-90) scale(1,1.1)" font-size="7.68" text-anchor="middle" >10<tspan font-size="5.18" dx="-0.48" dy="-3.07">7</tspan><tspan font-style="italic" dy="3.07" dx="1.54">g</tspan><tspan dx="-3.84" dy="-0.19" fill="#707070">¯</tspan><tspan font-size="5.18" dx="-0.38" dy="2.40">0</tspan></text>
<text transform="translate(470.60,331.10) rotate(-90) scale(1,1.1)" font-size="7.68" text-anchor="middle" >10<tspan font-size="5.18" dx="-0.48" dy="-3.07">7</tspan><tspan font-style="italic" dy="3.07" dx="1.54">g</tspan><tspan dx="-3.84" dy="-0.19" fill="#707070">¯</tspan><tspan font-size="5.18" dx="-0.38" dy="2.40">1</tspan></text>
<text transform="translate(269.40,7.70) scale(1,1.0)" font-size="8.0" text-anchor="start" >Precision in proposed <tspan font-size="5.4" dy="-4.0">227</tspan><tspan dy="4.0">AcF experiment: 0.1 mHz</tspan></text>
<text transform="translate(272.80,233.60) scale(1,1.0)" font-size="8.0" text-anchor="start" >Precision in proposed <tspan font-size="5.4" dy="-3.2">227</tspan><tspan dy="3.2">AcF experiment: 1 mHz</tspan></text>
<line x1="158.0" y1="100.5" x2="171.0" y2="100.5" stroke="#1d6fa1" stroke-width="2.1" stroke-linecap="round"/>
<line x1="158.0" y1="120.1" x2="171.0" y2="120.1" stroke="#b72a2e" stroke-width="2.1" stroke-linecap="round"/>
<line x1="158.0" y1="140.0" x2="171.0" y2="140.0" stroke="#000" stroke-width="2.1" stroke-linecap="round"/>
<text transform="translate(176.60,99.60) scale(1,1.13)" font-size="7.5" text-anchor="start" >199<tspan dy="3.8" dx="0.2">Hg</tspan></text>
<text transform="translate(176.60,120.50) scale(1,1.13)" font-size="7.5" text-anchor="start" >227<tspan dy="4.2" dx="0.2">AcF</tspan></text>
<text transform="translate(175.80,142.80) scale(1,1.16)" font-size="7.3" text-anchor="start" >Total</text>
</svg></body></html>
